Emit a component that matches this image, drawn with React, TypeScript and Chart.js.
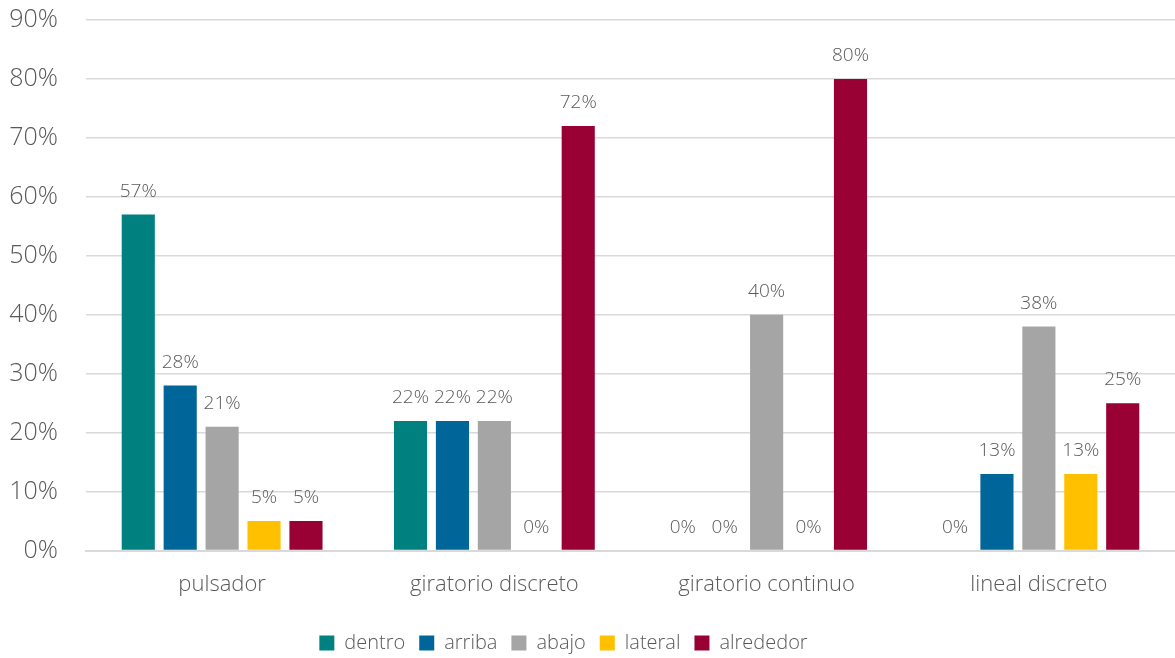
import React, { useEffect, useRef } from "react";
import { Chart, registerables } from "chart.js";

Chart.register(...registerables);

const categories = ["pulsador", "giratorio discreto", "giratorio continuo", "lineal discreto"];
const seriesNames = ["dentro", "arriba", "abajo", "lateral", "alrededor"];
const dentro = [57, 22, 0, 0];
const arriba = [28, 22, 0, 13];
const abajo = [21, 22, 40, 38];
const lateral = [5, 0, 0, 13];
const alrededor = [5, 72, 80, 25];
const colors = ["#00807F", "#006699", "#A5A5A5", "#FFC000", "#990033"];
const yTicks = [0, 10, 20, 30, 40, 50, 60, 70, 80, 90];

const FONT = "'Open Sans', 'DejaVu Sans', sans-serif";
const TEXT = "#595959";

const labelPlugin = {
  id: "barLabels",
  afterLayout(chart: any) {
    if (chart.legend) {
      chart.legend.left -= 24;
      chart.legend.right -= 24;
    }
  },
  afterDatasetsDraw(chart: any) {
    const ctx = chart.ctx;
    ctx.save();
    ctx.font = `300 19px ${FONT}`;
    ctx.fillStyle = TEXT;
    ctx.textAlign = "center";
    ctx.textBaseline = "alphabetic";
    chart.data.datasets.forEach((ds: any, i: number) => {
      const meta = chart.getDatasetMeta(i);
      meta.data.forEach((el: any, j: number) => {
        ctx.fillText(ds.data[j] + "%", el.x, el.y - 18);
      });
    });
    ctx.restore();
  },
};

export default function App() {
  const ref = useRef<HTMLCanvasElement>(null);
  useEffect(() => {
    document.body.style.margin = "0";
    const all = [dentro, arriba, abajo, lateral, alrededor];
    const chart = new Chart(ref.current!, {
      type: "bar",
      data: {
        labels: categories,
        datasets: seriesNames.map((n, i) => ({
          label: n,
          data: all[i],
          backgroundColor: colors[i],
          barPercentage: 0.79,
          categoryPercentage: 0.77,
        })),
      },
      options: {
        animation: false,
        responsive: false,
        maintainAspectRatio: false,
        layout: { padding: { top: 20, right: 0, bottom: -5, left: 0 } },
        plugins: {
          legend: {
            position: "bottom",
            labels: {
              boxWidth: 15,
              boxHeight: 15,
              color: TEXT,
              font: { family: FONT, size: 20, weight: "300" as any },
              padding: 14,
            },
          },
          tooltip: { enabled: false },
        },
        scales: {
          x: {
            grid: { display: false, drawTicks: false },
            border: { color: "#D9D9D9", width: 2 },
            ticks: {
              color: TEXT,
              font: { family: FONT, size: 22, weight: "300" as any },
              padding: 21,
            },
          },
          y: {
            min: 0,
            max: 90,
            afterBuildTicks: (axis: any) => {
              axis.ticks = yTicks.map((v) => ({ value: v }));
            },
            afterFit: (axis: any) => {
              axis.width = 86;
              axis.paddingTop = 0;
              axis.paddingBottom = 0;
            },
            grid: { color: "#D9D9D9", lineWidth: 1.5, drawTicks: false },
            border: { display: false },
            ticks: {
              color: TEXT,
              font: { family: FONT, size: 25, weight: "300" as any },
              padding: 28,
              callback: (v: any) => v + "%",
            },
          },
        },
      },
      plugins: [labelPlugin],
    });
    return () => chart.destroy();
  }, []);
  return <canvas ref={ref} width={1175} height={658} style={{ display: "block" }} />;
}
